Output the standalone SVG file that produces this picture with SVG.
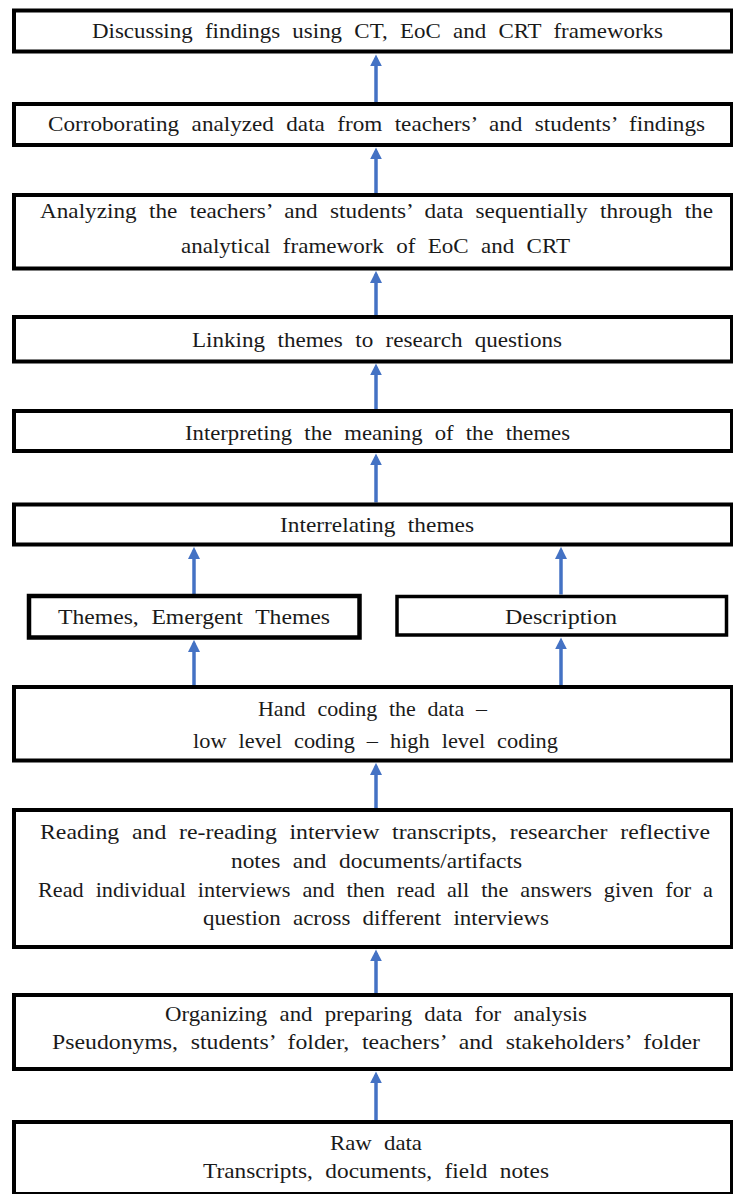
<svg xmlns="http://www.w3.org/2000/svg" width="733" height="1194" viewBox="0 0 733 1194">
<style>
.box{fill:#fff;stroke:#000;stroke-width:4}
.thin{stroke-width:3.5}
.thick{stroke-width:4.5}
.t{font-family:"Liberation Serif","Times New Roman",serif;font-size:21px;word-spacing:6px;fill:#1a1a1a}
.c{stroke:#4472C4;stroke-width:3.5;fill:none;marker-end:url(#ah)}
</style>
<defs>
<marker id="ah" viewBox="0 0 10 10" refX="7" refY="5" markerWidth="12" markerHeight="12" markerUnits="userSpaceOnUse" orient="auto">
<path d="M0,0 L10,5 L0,10 z" fill="#4472C4"/>
</marker>
</defs>
<rect width="733" height="1194" fill="#fff"/>
<g id="connectors">
<line class="c" x1="376" y1="102" x2="376" y2="58"/>
<line class="c" x1="376" y1="193" x2="376" y2="151"/>
<line class="c" x1="376" y1="315" x2="376" y2="274.5"/>
<line class="c" x1="376" y1="409" x2="376" y2="367"/>
<line class="c" x1="376" y1="502.5" x2="376" y2="457"/>
<line class="c" x1="194" y1="594" x2="194" y2="550.5"/>
<line class="c" x1="561" y1="594.5" x2="561" y2="550.5"/>
<line class="c" x1="194" y1="685" x2="194" y2="643.5"/>
<line class="c" x1="561" y1="685" x2="561" y2="641"/>
<line class="c" x1="376" y1="808" x2="376" y2="766.5"/>
<line class="c" x1="376" y1="993" x2="376" y2="953"/>
<line class="c" x1="376" y1="1120" x2="376" y2="1075"/>
</g>
<g id="n1">
<rect class="box" x="14" y="10.5" width="718" height="41"/>
<text class="t" x="92" y="37.5" textLength="571" lengthAdjust="spacingAndGlyphs">Discussing findings using CT, EoC and CRT frameworks</text>
</g>
<g id="n2">
<rect class="box" x="14" y="104" width="718" height="41"/>
<text class="t" x="48" y="131" textLength="657" lengthAdjust="spacingAndGlyphs">Corroborating analyzed data from teachers’ and students’ findings</text>
</g>
<g id="n3">
<rect class="box" x="14" y="195" width="718" height="73.5"/>
<text class="t" x="40" y="218" textLength="673" lengthAdjust="spacingAndGlyphs">Analyzing the teachers’ and students’ data sequentially through the</text>
<text class="t" x="181" y="253" textLength="389" lengthAdjust="spacingAndGlyphs">analytical framework of EoC and CRT</text>
</g>
<g id="n4">
<rect class="box" x="14" y="317" width="718" height="44.5"/>
<text class="t" x="192" y="347" textLength="370" lengthAdjust="spacingAndGlyphs">Linking themes to research questions</text>
</g>
<g id="n5">
<rect class="box" x="14" y="411" width="718" height="40"/>
<text class="t" x="185" y="439.5" textLength="385" lengthAdjust="spacingAndGlyphs">Interpreting the meaning of the themes</text>
</g>
<g id="n6">
<rect class="box" x="14" y="504.5" width="718" height="40"/>
<text class="t" x="280" y="532" textLength="194" lengthAdjust="spacingAndGlyphs">Interrelating themes</text>
</g>
<g id="n7">
<rect class="box thick" x="29" y="596" width="330.5" height="41.5"/>
<text class="t" x="58" y="624" textLength="272" lengthAdjust="spacingAndGlyphs">Themes, Emergent Themes</text>
</g>
<g id="n8">
<rect class="box thin" x="397" y="596.5" width="329.5" height="38.5"/>
<text class="t" x="505" y="624" textLength="112" lengthAdjust="spacingAndGlyphs">Description</text>
</g>
<g id="n9">
<rect class="box" x="14" y="687" width="718" height="73.5"/>
<text class="t" x="258" y="716" textLength="229" lengthAdjust="spacingAndGlyphs">Hand coding the data –</text>
<text class="t" x="193" y="748" textLength="365" lengthAdjust="spacingAndGlyphs">low level coding – high level coding</text>
</g>
<g id="n10">
<rect class="box" x="14" y="810" width="718" height="137"/>
<text class="t" x="40" y="839" textLength="670" lengthAdjust="spacingAndGlyphs">Reading and re-reading interview transcripts, researcher reflective</text>
<text class="t" x="231" y="868" textLength="291" lengthAdjust="spacingAndGlyphs">notes and documents/artifacts</text>
<text class="t" x="38" y="897" textLength="675" lengthAdjust="spacingAndGlyphs">Read individual interviews and then read all the answers given for a</text>
<text class="t" x="203" y="925" textLength="346" lengthAdjust="spacingAndGlyphs">question across different interviews</text>
</g>
<g id="n11">
<rect class="box" x="14" y="995" width="718" height="74"/>
<text class="t" x="165" y="1021" textLength="422" lengthAdjust="spacingAndGlyphs">Organizing and preparing data for analysis</text>
<text class="t" x="52" y="1049" textLength="648" lengthAdjust="spacingAndGlyphs">Pseudonyms, students’ folder, teachers’ and stakeholders’ folder</text>
</g>
<g id="n12">
<rect class="box" x="14" y="1122" width="718" height="72"/>
<text class="t" x="330" y="1150" textLength="92" lengthAdjust="spacingAndGlyphs">Raw data</text>
<text class="t" x="203" y="1178" textLength="346" lengthAdjust="spacingAndGlyphs">Transcripts, documents, field notes</text>
</g>
</svg>
